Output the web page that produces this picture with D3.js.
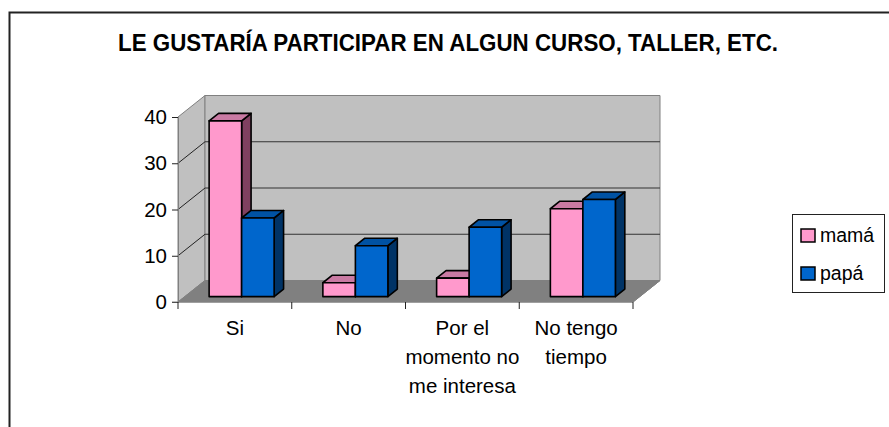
<!DOCTYPE html>
<html>
<head>
<meta charset="utf-8">
<script src="https://cdn.jsdelivr.net/npm/d3@7"></script>
<style>
  html, body { margin: 0; padding: 0; background: #fff; }
  svg { display: block; font-family: "Liberation Sans", Arial, sans-serif; }
</style>
</head>
<body>
<script>
// data
const categories = [["Si"], ["No"], ["Por el", "momento no", "me interesa"], ["No tengo", "tiempo"]];
const categoryKeys = ["Si", "No", "Por el momento no me interesa", "No tengo tiempo"];
const seriesNames = ["mamá", "papá"];
const mamaValues = [38, 3, 4, 19];
const papaValues = [17, 11, 15, 21];
const yTicks = [0, 10, 20, 30, 40];
const titleText = "LE GUSTARÍA PARTICIPAR EN ALGUN CURSO, TALLER, ETC.";

const W = 889, H = 427;
// front plane of the plot and the 3d depth offset
const PLOT = { left: 178, right: 633, top: 117, bottom: 302 };
const DEPTH = { dx: 27, dy: -21.5 };
const BAR_FRONT = 0.25, BAR_BACK = 0.6;

const colors = {
  "mamá": { front: "#ff99cc", top: "#c97aa3", side: "#804060" },
  "papá": { front: "#0066cc", top: "#0052a3", side: "#003366" }
};

const svg = d3.select("body").append("svg")
  .attr("width", W)
  .attr("height", H);

// outer frame
svg.append("rect")
  .attr("x", 9.5).attr("y", 12.5)
  .attr("width", 900).attr("height", 450)
  .attr("fill", "#fff")
  .attr("stroke", "#222")
  .attr("stroke-width", 2);

svg.append("text")
  .attr("x", 448).attr("y", 51)
  .attr("text-anchor", "middle")
  .attr("font-weight", "bold")
  .attr("font-size", 23)
  .attr("textLength", 660)
  .attr("lengthAdjust", "spacingAndGlyphs")
  .text(titleText);

const x = d3.scaleBand()
  .domain(categoryKeys)
  .range([PLOT.left, PLOT.right]);

const xSub = d3.scaleBand()
  .domain(seriesNames)
  .range([0, x.bandwidth()])
  .paddingOuter(0.75);

const y = d3.scaleLinear()
  .domain([0, 40])
  .range([PLOT.bottom, PLOT.top]);

// project a front-plane point back by depth fraction f
const P = (px, py, f) => [px + DEPTH.dx * f, py + DEPTH.dy * f];
const pts = arr => arr.map(p => p.join(",")).join(" ");

const walls = svg.append("g");
const y0 = y(0), yMax = y(40);

// left side wall
walls.append("polygon")
  .attr("points", pts([[PLOT.left, yMax], P(PLOT.left, yMax, 1), P(PLOT.left, y0, 1), [PLOT.left, y0]]))
  .attr("fill", "#c0c0c0").attr("stroke", "#808080");

// back wall
walls.append("polygon")
  .attr("points", pts([P(PLOT.left, yMax, 1), P(PLOT.right, yMax, 1), P(PLOT.right, y0, 1), P(PLOT.left, y0, 1)]))
  .attr("fill", "#c0c0c0").attr("stroke", "#808080");

// floor
walls.append("polygon")
  .attr("points", pts([[PLOT.left, y0], P(PLOT.left, y0, 1), P(PLOT.right, y0, 1), [PLOT.right, y0]]))
  .attr("fill", "#808080").attr("stroke", "#808080");

// gridlines on back and side walls
yTicks.filter(v => v > 0 && v < 40).forEach(v => {
  const a = P(PLOT.left, y(v), 1), b = P(PLOT.right, y(v), 1);
  walls.append("line")
    .attr("x1", a[0]).attr("y1", a[1]).attr("x2", b[0]).attr("y2", b[1])
    .attr("stroke", "#333").attr("stroke-width", 1);
  walls.append("line")
    .attr("x1", PLOT.left).attr("y1", y(v)).attr("x2", a[0]).attr("y2", a[1])
    .attr("stroke", "#222").attr("stroke-width", 1);
});

// bars
const table = categoryKeys.map((c, i) => ({ key: c, values: [mamaValues[i], papaValues[i]] }));
const bars = svg.append("g");

table.forEach(row => {
  row.values.forEach((v, si) => {
    const s = seriesNames[si];
    const x0 = x(row.key) + xSub(s), x1 = x0 + xSub.bandwidth();
    const yt = y(v), yb = y(0);
    const fl = P(x0, yt, BAR_FRONT), fr = P(x1, yt, BAR_FRONT);
    const bl = P(x0, yt, BAR_BACK), br = P(x1, yt, BAR_BACK);
    const fbr = P(x1, yb, BAR_FRONT), bbr = P(x1, yb, BAR_BACK);
    const fbl = P(x0, yb, BAR_FRONT);
    const g = bars.append("g")
      .attr("stroke", "#000").attr("stroke-width", 1.6).attr("stroke-linejoin", "round");
    g.append("polygon").attr("points", pts([fr, br, bbr, fbr])).attr("fill", colors[s].side);
    g.append("polygon").attr("points", pts([fl, fr, br, bl])).attr("fill", colors[s].top);
    g.append("polygon").attr("points", pts([fl, fr, fbr, fbl])).attr("fill", colors[s].front);
  });
});

// y axis
const yAxis = d3.axisLeft(y)
  .tickValues(yTicks)
  .tickSize(6)
  .tickPadding(5);

const yAxisGroup = svg.append("g")
  .attr("transform", `translate(${PLOT.left},0)`)
  .call(yAxis);
yAxisGroup.select(".domain").attr("stroke", "#808080");
yAxisGroup.selectAll(".tick line").attr("stroke", "#222");
yAxisGroup.selectAll(".tick text")
  .attr("font-size", 20.5)
  .attr("font-family", "Liberation Sans, Arial, sans-serif")
  .attr("fill", "#000");

// x axis line and category boundary ticks
const xAxisGroup = svg.append("g");
xAxisGroup.append("line")
  .attr("x1", PLOT.left - 6).attr("x2", PLOT.right)
  .attr("y1", y0).attr("y2", y0)
  .attr("stroke", "#808080");
const bounds = categoryKeys.map(c => x(c)).concat([PLOT.right]);
bounds.forEach(b => {
  xAxisGroup.append("line")
    .attr("x1", b).attr("x2", b)
    .attr("y1", y0).attr("y2", y0 + 7)
    .attr("stroke", "#222");
});
// right edge of the floor
const fr0 = P(PLOT.right, y0, 1);
xAxisGroup.append("line")
  .attr("x1", PLOT.right).attr("y1", y0).attr("x2", fr0[0]).attr("y2", fr0[1])
  .attr("stroke", "#808080");

categories.forEach((lines, i) => {
  const t = xAxisGroup.append("text")
    .attr("text-anchor", "middle")
    .attr("font-size", 20.5);
  lines.forEach((ln, j) => {
    t.append("tspan")
      .attr("x", x(categoryKeys[i]) + x.bandwidth() / 2)
      .attr("y", 335 + j * 29)
      .text(ln);
  });
});

// legend
const legend = svg.append("g");
legend.append("rect")
  .attr("x", 792.5).attr("y", 214.5)
  .attr("width", 92).attr("height", 78)
  .attr("fill", "#fff").attr("stroke", "#222");
seriesNames.forEach((s, i) => {
  const cy = 235.5 + i * 38;
  legend.append("rect")
    .attr("x", 801).attr("y", cy - 6.5)
    .attr("width", 14).attr("height", 13)
    .attr("fill", colors[s].front)
    .attr("stroke", "#000").attr("stroke-width", 1.5);
  legend.append("text")
    .attr("x", 820).attr("y", cy + 6)
    .attr("font-size", 19.5)
    .text(s);
});
</script>
</body>
</html>
